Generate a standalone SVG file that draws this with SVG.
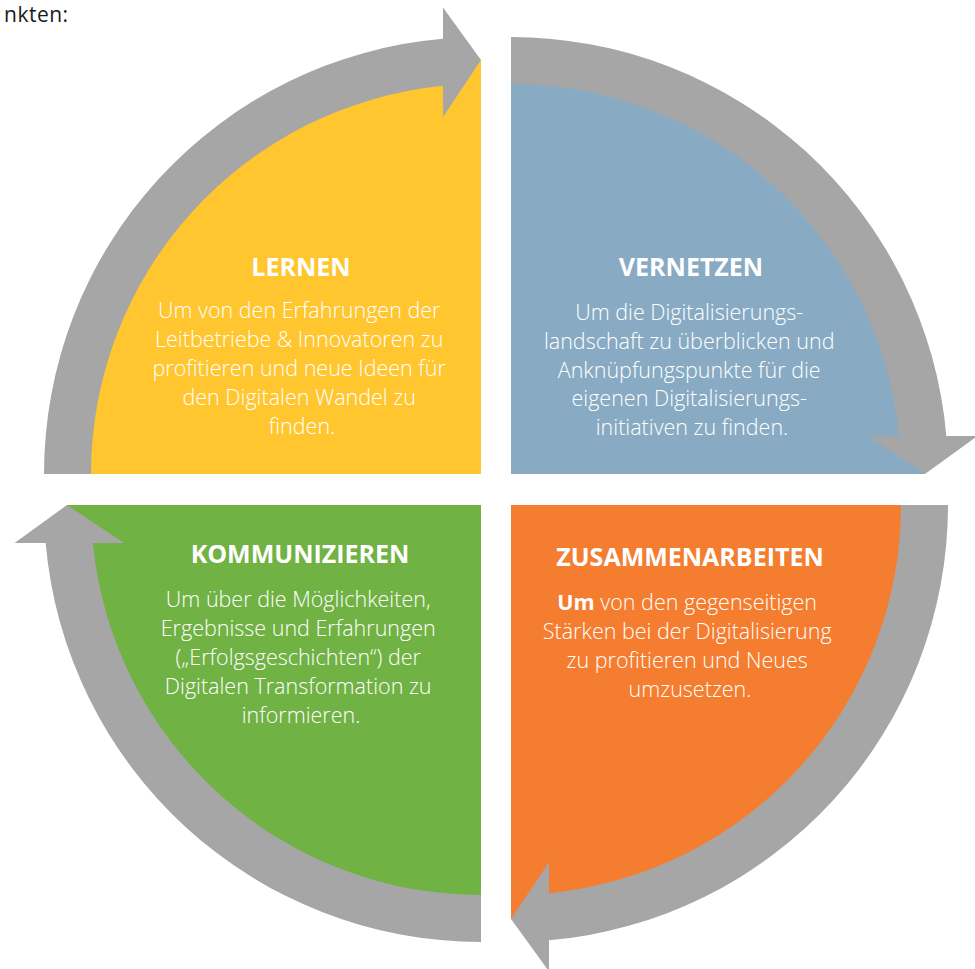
<svg xmlns="http://www.w3.org/2000/svg" width="975" height="969" viewBox="0 0 975 969">
  <style>
    .head { font-family: "Open Sans", "Noto Sans", "Liberation Sans", sans-serif; font-weight: 700; font-size: 25px; fill: #ffffff; text-anchor: middle; }
    .body { font-family: "Open Sans", "Noto Sans", "Liberation Sans", sans-serif; font-weight: 300; font-size: 21.5px; fill: #ffffff; text-anchor: middle; }
    .lead { font-family: "Open Sans", "Noto Sans", "Liberation Sans", sans-serif; font-weight: 400; font-size: 21px; letter-spacing: 0.5px; fill: #1a1a1a; }
    .ring { fill: #a6a6a6; }
  </style>

  <rect x="0" y="0" width="975" height="969" fill="#ffffff"/>

  <text class="lead" x="4" y="22">nkten:</text>

  <!-- quadrant: LERNEN -->
  <g id="lernen">
    <path d="M481,474 L67,474 A414,414 0 0 1 481,60 Z" fill="#ffc62f"/>
    <text class="head" x="301" y="276">LERNEN</text>
    <text class="body">
      <tspan x="302" y="318">Um von den Erfahrungen der</tspan>
      <tspan x="302" y="347">Leitbetriebe &amp; Innovatoren zu</tspan>
      <tspan x="302" y="376">profitieren und neue Ideen für</tspan>
      <tspan x="302" y="405">den Digitalen Wandel zu</tspan>
      <tspan x="302" y="434">finden.</tspan>
    </text>
  </g>

  <!-- quadrant: VERNETZEN -->
  <g id="vernetzen">
    <path d="M511,474 L511,60 A414,414 0 0 1 925,474 Z" fill="#88abc3"/>
    <text class="head" x="691" y="276">VERNETZEN</text>
    <text class="body">
      <tspan x="692" y="320">Um die Digitalisierungs-</tspan>
      <tspan x="692" y="349">landschaft zu überblicken und</tspan>
      <tspan x="692" y="378">Anknüpfungspunkte für die</tspan>
      <tspan x="692" y="406">eigenen Digitalisierungs-</tspan>
      <tspan x="692" y="435">initiativen zu finden.</tspan>
    </text>
  </g>

  <!-- quadrant: ZUSAMMENARBEITEN -->
  <g id="zusammenarbeiten">
    <path d="M511,505 L925,505 A414,414 0 0 1 511,919 Z" fill="#f47d30"/>
    <text class="head" x="690" y="566">ZUSAMMENARBEITEN</text>
    <text class="body">
      <tspan x="690" y="610"><tspan font-weight="700">Um</tspan> von den gegenseitigen</tspan>
      <tspan x="690" y="639">Stärken bei der Digitalisierung</tspan>
      <tspan x="690" y="668">zu profitieren und Neues</tspan>
      <tspan x="690" y="697">umzusetzen.</tspan>
    </text>
  </g>

  <!-- quadrant: KOMMUNIZIEREN -->
  <g id="kommunizieren">
    <path d="M481,505 L481,919 A414,414 0 0 1 67,505 Z" fill="#71b244"/>
    <text class="head" x="300" y="563">KOMMUNIZIEREN</text>
    <text class="body">
      <tspan x="301" y="607">Um über die Möglichkeiten,</tspan>
      <tspan x="301" y="636">Ergebnisse und Erfahrungen</tspan>
      <tspan x="301" y="665">(„Erfolgsgeschichten“) der</tspan>
      <tspan x="301" y="694">Digitalen Transformation zu</tspan>
      <tspan x="301" y="723">informieren.</tspan>
    </text>
  </g>

  <!-- cycle arrows between the quadrants -->
  <g id="connectors">
    <path class="ring" d="M44,474 A437,437 0 0 1 443,38.66 L443,7.55 L481,60 L443,117.02 L443,85.86 A390,390 0 0 0 91,474 Z"/>
    <path class="ring" d="M511,37 A437,437 0 0 1 946.34,436 L977.45,436 L925,474 L867.98,436 L899.14,436 A390,390 0 0 0 511,84 Z"/>
    <path class="ring" d="M948,505 A437,437 0 0 1 549,940.34 L549,971.45 L511,919 L549,861.98 L549,893.14 A390,390 0 0 0 901,505 Z"/>
    <path class="ring" d="M481,942 A437,437 0 0 1 45.66,543 L14.55,543 L67,505 L124.02,543 L92.86,543 A390,390 0 0 0 481,895 Z"/>
  </g>
</svg>
